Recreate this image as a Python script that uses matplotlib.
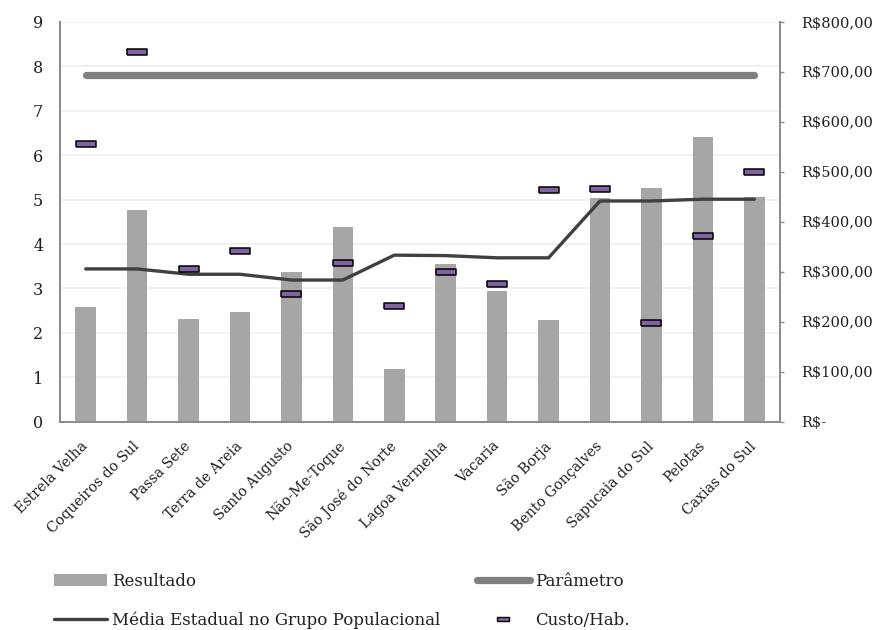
import matplotlib
matplotlib.use("Agg")
import matplotlib.pyplot as plt
from matplotlib.lines import Line2D
from matplotlib.patches import Patch
from matplotlib.ticker import FuncFormatter, FixedLocator

# ---------------- data ----------------
categories = ["Estrela Velha", "Coqueiros do Sul", "Passa Sete", "Terra de Areia",
              "Santo Augusto", "Não-Me-Toque", "São José do Norte", "Lagoa Vermelha",
              "Vacaria", "São Borja", "Bento Gonçalves", "Sapucaia do Sul",
              "Pelotas", "Caxias do Sul"]
resultado = [2.59, 4.77, 2.32, 2.46, 3.37, 4.38, 1.18, 3.55, 2.94, 2.29, 5.04, 5.26, 6.40, 5.06]
media_estadual = [3.44, 3.44, 3.32, 3.32, 3.19, 3.19, 3.75, 3.74, 3.69, 3.69, 4.97, 4.97, 5.01, 5.01]
parametro = [7.8] * 14
custo_hab = [555, 739, 306, 342, 256, 318, 232, 300, 275, 464, 466, 198, 372, 500]
left_ticks = [0, 1, 2, 3, 4, 5, 6, 7, 8, 9]
right_ticks = [0, 100, 200, 300, 400, 500, 600, 700, 800]

# ---------------- style ----------------
plt.rcParams['font.family'] = ['DejaVu Serif']
plt.rcParams['font.size'] = 10.5
TXT = '#1f1f1f'
SPINE = '#8c8c8c'

fig = plt.figure(figsize=(8.77, 6.30), dpi=100)
ax = fig.add_axes([60/877, 1-421.7/630, 720/877, (421.7-22)/630])
ax2 = ax.twinx()

x = list(range(len(categories)))

ax.set_axisbelow(True)
ax.bar(x, resultado, width=0.4, color='#a6a6a6', zorder=2)
ax.plot(x, parametro, color='#808080', lw=5.2, solid_capstyle='round', zorder=3)
ax.plot(x, media_estadual, color='#404040', lw=2.4, solid_capstyle='round',
        solid_joinstyle='round', zorder=4)

rect = [(-1, -0.25), (1, -0.25), (1, 0.25), (-1, 0.25), (-1, -0.25)]
ax2.plot(x, custo_hab, linestyle='none', marker=rect, markersize=14.5,
         markerfacecolor='#8064a2', markeredgecolor='black', markeredgewidth=1.1, zorder=5)

ax.set_xlim(-0.5, len(categories) - 0.5)
ax.set_ylim(0, 9)
ax2.set_ylim(0, 800)

ax.yaxis.set_major_locator(FixedLocator(left_ticks))
ax2.yaxis.set_major_locator(FixedLocator(right_ticks))
ax2.yaxis.set_major_formatter(FuncFormatter(lambda v, p: "R$-" if v == 0 else f"R${int(v)},00"))

ax.grid(axis='y', color='#efefef', lw=1.2)
ax.grid(axis='x', visible=False)

ax.set_xticks(x)
ax.set_xticklabels(categories, rotation=45, ha='right', va='center', rotation_mode='anchor',
                   fontsize=10.2)
ax.tick_params(axis='x', length=0, pad=16, colors=TXT)
ax.tick_params(axis='y', length=0, pad=12, colors=TXT, labelsize=11.5)
ax2.tick_params(axis='y', length=3, width=1, color=SPINE, pad=12, colors=TXT, labelsize=10.5)
ax2.tick_params(axis='y', color=SPINE)

for a in (ax, ax2):
    a.spines['top'].set_visible(False)
    for s in ('left', 'right', 'bottom'):
        a.spines[s].set_color(SPINE)
        a.spines[s].set_linewidth(1.3)

# ---------------- legend ----------------
h_res = Patch(facecolor='#a6a6a6', edgecolor='none')
h_med = Line2D([], [], color='#404040', lw=2.4, solid_capstyle='round')
h_par = Line2D([], [], color='#808080', lw=5.2, solid_capstyle='round')
h_cus = Line2D([], [], linestyle='none', marker=rect, markersize=9,
               markerfacecolor='#8064a2', markeredgecolor='black', markeredgewidth=1.0)

common = dict(frameon=False, loc='upper left', borderpad=0, borderaxespad=0,
              handlelength=3.15, handleheight=0.7, handletextpad=0.35,
              labelspacing=1.3, fontsize=12, labelcolor=TXT)
leg1 = fig.legend([h_res, h_med], ["Resultado", "Média Estadual no Grupo Populacional"],
                  bbox_to_anchor=(54/877, 1-573/630), **common)
leg2 = fig.legend([h_par, h_cus], ["Parâmetro", "Custo/Hab."],
                  bbox_to_anchor=(477/877, 1-573/630), **common)

fig.savefig("out.png", dpi=100)
